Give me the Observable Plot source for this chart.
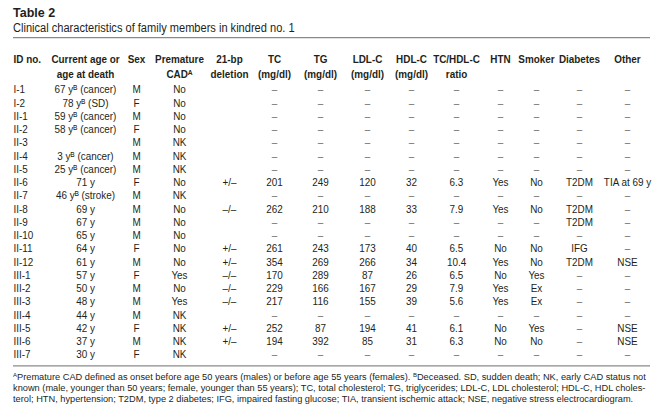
<!DOCTYPE html>
<html>
<head>
<meta charset="utf-8">
<script src="https://cdn.jsdelivr.net/npm/d3@7"></script>
<script src="https://cdn.jsdelivr.net/npm/@observablehq/plot@0.6"></script>
<style>
  body { margin: 0; background: #fff; color: #231f20; }
  #wrap { width: 658px; }
  .title { font: bold 12.5px "Liberation Sans", Arial, sans-serif; line-height: 16px; padding: 5px 0 0 13px; }
  .subtitle { font: 12.5px "Liberation Sans", Arial, sans-serif; line-height: 15px; padding-left: 13px; white-space: nowrap; }
  .subtitle span { display: inline-block; transform: scaleX(0.885); transform-origin: left center; }
  .foot { font: 9.25px "Liberation Sans", Arial, sans-serif; line-height: 11px; padding: 2px 0 0 13px; white-space: nowrap; }
  .foot sup { font-size: 6px; vertical-align: 3px; line-height: 0; }
  svg { display: block; }
</style>
</head>
<body>
<div id="wrap">
  <div class="title">Table 2</div>
  <div class="subtitle"><span>Clinical characteristics of family members in kindred no. 1</span></div>
  <div id="chart"></div>
  <div class="foot"><sup>A</sup>Premature CAD defined as onset before age 50 years (males) or before age 55 years (females). <sup>B</sup>Deceased. SD, sudden death; NK, early CAD status not<br>known (male, younger than 50 years; female, younger than 55 years); TC, total cholesterol; TG, triglycerides; LDL-C, LDL cholesterol; HDL-C, HDL choles-<br>terol; HTN, hypertension; T2DM, type 2 diabetes; IFG, impaired fasting glucose; TIA, transient ischemic attack; NSE, negative stress electrocardiogram.</div>
</div>
<script>
// ---- data ----
const ids = ["I-1","I-2","II-1","II-2","II-3","II-4","II-5","II-6","II-7","II-8","II-9","II-10","II-11","II-12","III-1","III-2","III-3","III-4","III-5","III-6","III-7"];
const ages = ["67 y\u1D2E (cancer)","78 y\u1D2E (SD)","59 y\u1D2E (cancer)","58 y\u1D2E (cancer)","","3 y\u1D2E (cancer)","25 y\u1D2E (cancer)","71 y","46 y\u1D2E (stroke)","69 y","67 y","65 y","64 y","61 y","57 y","50 y","48 y","44 y","42 y","37 y","30 y"];
const sex = ["M","F","M","F","M","M","M","F","M","M","M","M","F","M","F","M","M","M","F","M","F"];
const prematureCAD = ["No","No","No","No","NK","NK","NK","No","NK","No","No","No","No","No","Yes","No","Yes","NK","NK","NK","NK"];
const deletion = ["","","","","","","","+/\u2013","","\u2013/\u2013","","","+/\u2013","+/\u2013","\u2013/\u2013","\u2013/\u2013","\u2013/\u2013","","+/\u2013","+/\u2013",""];
const tc = [null,null,null,null,null,null,null,201,null,262,null,null,261,354,170,229,217,null,252,194,null];
const tg = [null,null,null,null,null,null,null,249,null,210,null,null,243,269,289,166,116,null,87,392,null];
const ldl = [null,null,null,null,null,null,null,120,null,188,null,null,173,266,87,167,155,null,194,85,null];
const hdl = [null,null,null,null,null,null,null,32,null,33,null,null,40,34,26,29,39,null,41,31,null];
const ratio = [null,null,null,null,null,null,null,6.3,null,7.9,null,null,6.5,10.4,6.5,7.9,5.6,null,6.1,6.3,null];
const htn = [null,null,null,null,null,null,null,"Yes",null,"Yes",null,null,"No","Yes","No","Yes","Yes",null,"No","No",null];
const smoker = [null,null,null,null,null,null,null,"No",null,"No",null,null,"No","No","Yes","Ex","Ex",null,"Yes","No",null];
const diabetes = [null,null,null,null,null,null,null,"T2DM",null,"T2DM","T2DM",null,"IFG","T2DM",null,null,null,null,null,null,null];
const other = [null,null,null,null,null,null,null,"TIA at 69 y",null,null,null,null,null,"NSE",null,null,null,null,"NSE","NSE",null];

const headerLine1 = ["ID no.","Current age or","Sex","Premature","21-bp","TC","TG","LDL-C","HDL-C","TC/HDL-C","HTN","Smoker","Diabetes","Other"];
const headerLine2 = ["","age at death","","CAD\u1D2C","deletion","(mg/dl)","(mg/dl)","(mg/dl)","(mg/dl)","ratio","","","",""];

// ---- layout (column centres in table units, row units) ----
const colCenter = [13, 85, 136, 179, 229, 274, 320, 367, 411, 456, 500, 536, 579, 627];
const columns = [ids, ages, sex, prematureCAD, deletion, tc, tg, ldl, hdl, ratio, htn, smoker, diabetes, other];
const fmt = (v, c) => (c === 9 && v != null) ? v.toFixed(1) : v;

const cells = [];
columns.forEach((arr, c) => arr.forEach((v, r) => {
  if (v === "") return;
  const missing = v == null;
  cells.push({col: c, row: r, label: missing ? "\u2013" : String(fmt(v, c)), missing});
}));
const heads = [];
headerLine1.forEach((t, c) => { if (t) heads.push({col: c, line: -2.26, label: t}); });
headerLine2.forEach((t, c) => { if (t) heads.push({col: c, line: -1.17, label: t}); });

const font = "'Liberation Sans', Arial, sans-serif";
const ink = "#231f20";
const common = {x: d => colCenter[d.col], text: "label", fontFamily: font, fontSize: 11.8};

const chart = Plot.plot({
  width: 658,
  height: 334,
  margin: 0,
  x: {type: "linear", domain: [0, 658], range: [0, 658], axis: null},
  y: {type: "linear", domain: [-4, 21.2], range: [0, 334], axis: null},
  marks: [
    Plot.ruleY([-3.92, 20.85], {x1: 13, x2: 650, stroke: "#8a8a8a", strokeWidth: 1.2}),
    Plot.text(heads.filter(d => d.col === 0), {...common, y: "line", textAnchor: "start", fontWeight: "bold", fill: ink}),
    Plot.text(heads.filter(d => d.col !== 0), {...common, y: "line", textAnchor: "middle", fontWeight: "bold", fill: ink}),
    Plot.text(cells.filter(d => d.col === 0), {...common, y: "row", textAnchor: "start", fill: ink}),
    Plot.text(cells.filter(d => d.col !== 0), {...common, y: "row", textAnchor: "middle",
      fill: d => d.missing ? "#6b6b6b" : ink})
  ]
});
// emulate the condensed typeface of the original
const K = 0.84;
chart.querySelectorAll("text").forEach(t => {
  const tr = t.getAttribute("transform");
  if (tr && tr.includes("translate")) {
    t.setAttribute("transform", tr + ` scale(${K},1)`);
  } else if (t.hasAttribute("x") || t.hasAttribute("y")) {
    const x = +t.getAttribute("x") || 0, y = +t.getAttribute("y") || 0;
    t.removeAttribute("x"); t.removeAttribute("y");
    t.setAttribute("transform", `translate(${x},${y}) scale(${K},1)` + (tr ? " " + tr : ""));
  }
});
document.getElementById("chart").appendChild(chart);
</script>
</body>
</html>
